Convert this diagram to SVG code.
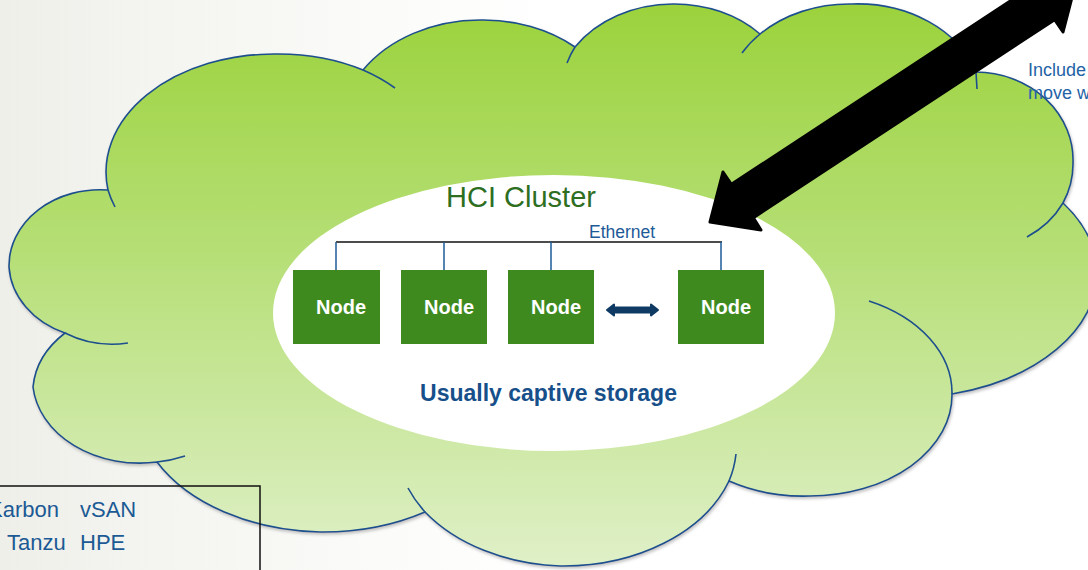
<svg xmlns="http://www.w3.org/2000/svg" width="1088" height="570" viewBox="0 0 1088 570">
  <defs>
    <linearGradient id="bg" x1="0" y1="0" x2="1088" y2="0" gradientUnits="userSpaceOnUse">
      <stop offset="0" stop-color="#efefea"/>
      <stop offset="0.35" stop-color="#fbfbf9"/>
      <stop offset="0.5" stop-color="#ffffff"/>
    </linearGradient>
    <linearGradient id="cloudFill" x1="0" y1="0" x2="0" y2="570" gradientUnits="userSpaceOnUse">
      <stop offset="0" stop-color="#9bd23b"/>
      <stop offset="0.45" stop-color="#b6df77"/>
      <stop offset="1" stop-color="#e0f0c9"/>
    </linearGradient>
    <filter id="shadow" x="-5%" y="-5%" width="110%" height="115%">
      <feDropShadow dx="1" dy="2" stdDeviation="1.5" flood-color="#7a7a7a" flood-opacity="0.45"/>
    </filter>
    <style>
      .outline { fill: none; stroke: #1d4f8e; stroke-width: 1.6; }
      .node rect { fill: #3e8a1f; }
      .node text { font-family: "Liberation Sans", Arial, sans-serif; font-weight: bold; font-size: 20px; fill: #ffffff; text-anchor: middle; }
      .bus { stroke: #1d5a98; stroke-width: 1.5; fill: none; }
      .boxtext { font-family: "Liberation Sans", Arial, sans-serif; font-size: 22px; fill: #1b5a94; }
    </style>
  </defs>

  <rect x="0" y="0" width="1088" height="570" fill="url(#bg)"/>

  <g id="cloud">
    <path filter="url(#shadow)" fill="url(#cloudFill)" stroke="#1d4f8e" stroke-width="1.6"
      d="M 65,333
         A 91 76 0 0 1 9,267 A 91 76 0 0 1 108,190
         A 168 118 0 0 1 276,54 A 168 118 0 0 1 363,70
         A 140 110 0 0 1 480,20 A 140 110 0 0 1 575,47
         A 118 96 0 0 1 673,4 A 118 96 0 0 1 760,34
         A 125 100 0 0 1 852,4 A 125 100 0 0 1 976,72
         A 98 88 0 0 1 1073,163 A 98 88 0 0 1 1063,203
         A 194 125 0 0 1 1097,273 A 194 125 0 0 1 952,394
         A 142 101 0 0 1 810,496 A 142 101 0 0 1 729,481
         A 175 126 0 0 1 560,566 A 175 126 0 0 1 425,512
         A 190 128 0 0 1 320,532 A 190 128 0 0 1 157,462
         A 107 84 0 0 1 33,387 A 107 84 0 0 1 65,333 Z"/>
    <path class="outline"
      d="M 128,343 A 91 76 0 0 1 65,333
         M 115,207 A 168 118 0 0 1 108,190
         M 363,70 A 168 118 0 0 1 395,88
         M 567,63 A 118 96 0 0 1 575,47
         M 742,53 A 125 100 0 0 1 760,34
         M 977,89 L 976,72
         M 1063,203 A 98 88 0 0 1 1027,237
         M 869,301 A 142 101 0 0 1 952,394
         M 736,454 A 175 126 0 0 1 729,481
         M 425,512 A 175 126 0 0 1 408,488
         M 185,456 A 107 84 0 0 1 157,462"/>
  </g>

  <g id="cluster">
    <ellipse cx="554" cy="313" rx="281" ry="138" fill="#ffffff"/>
    <text x="521" y="207" font-family="Liberation Sans, Arial, sans-serif" font-size="29" fill="#2e6e1f" text-anchor="middle">HCI Cluster</text>
    <text x="548.5" y="401" font-family="Liberation Sans, Arial, sans-serif" font-size="23" font-weight="bold" fill="#174f8a" text-anchor="middle">Usually captive storage</text>
  </g>

  <g id="connectors">
    <line x1="336" y1="242" x2="722" y2="242" stroke="#111111" stroke-width="1.6"/>
    <line class="bus" x1="336" y1="242" x2="336" y2="270"/>
    <line class="bus" x1="444" y1="242" x2="444" y2="270"/>
    <line class="bus" x1="551" y1="242" x2="551" y2="270"/>
    <line class="bus" x1="721" y1="242" x2="721" y2="270"/>
    <text x="589" y="238" font-family="Liberation Sans, Arial, sans-serif" font-size="17.5" fill="#1d5a98">Ethernet</text>
    <path d="M 607,310 L 614,304.5 L 614,307.5 L 651,307.5 L 651,304.5 L 658,310 L 651,315.5 L 651,312.5 L 614,312.5 L 614,315.5 Z"
      fill="#0e3a64" stroke="#0e3a64" stroke-width="2" stroke-linejoin="round"/>
    <path id="bigArrow" d="M 710,222 L 723,172 L 731.4,184.3 L 1032.6,-13.7 L 1024,-27 L 1076,-18 L 1063,32 L 1054.6,19.7 L 753.4,217.7 L 761,230 Z"
      fill="#000000" stroke="#000000" stroke-width="3" stroke-linejoin="round"/>
  </g>

  <g id="node1" class="node">
    <rect x="293" y="270" width="87" height="74"/>
    <text x="341" y="314">Node</text>
  </g>
  <g id="node2" class="node">
    <rect x="401" y="270" width="86" height="74"/>
    <text x="449" y="314">Node</text>
  </g>
  <g id="node3" class="node">
    <rect x="508" y="270" width="86" height="74"/>
    <text x="556" y="314">Node</text>
  </g>
  <g id="node4" class="node">
    <rect x="678" y="270" width="86" height="74"/>
    <text x="726" y="314">Node</text>
  </g>

  <g id="note">
    <text x="1028" y="76" font-family="Liberation Sans, Arial, sans-serif" font-size="18" fill="#2462a6">Include</text>
    <text x="1028" y="99" font-family="Liberation Sans, Arial, sans-serif" font-size="18" fill="#2462a6">move w</text>
  </g>

  <g id="vendors">
    <rect x="-20" y="486" width="280" height="110" fill="none" stroke="#111111" stroke-width="1.5"/>
    <text class="boxtext" y="517"><tspan x="-12">Karbon</tspan><tspan x="80">vSAN</tspan></text>
    <text class="boxtext" y="550"><tspan x="7">Tanzu</tspan><tspan x="80">HPE</tspan></text>
  </g>
</svg>
